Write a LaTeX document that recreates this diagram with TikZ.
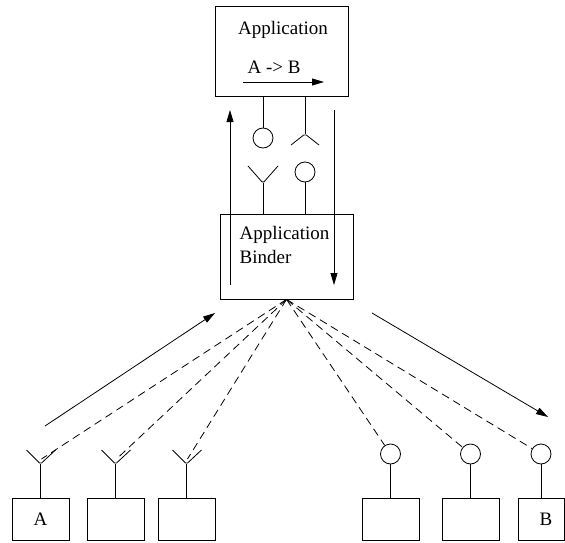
\documentclass[tikz,border=0pt]{standalone}
\usepackage{fontspec}
\setmainfont{Liberation Serif}
\usetikzlibrary{arrows.meta}

\tikzset{
  box/.style={draw, rectangle, inner sep=0pt},
  plug/.style={draw, circle, minimum size=20pt, inner sep=0pt},
  wire/.style={line width=0.8pt},
  cup/.style={line width=0.8pt, rounded corners=1.5pt},
  flow/.style={line width=0.8pt, -{Triangle[length=12pt,width=7pt]}},
  bind/.style={line width=0.8pt, dash pattern=on 8pt off 5pt}
}

\begin{document}
\begin{tikzpicture}[x=1pt, y=-1pt, font=\fontsize{19}{24}\selectfont, line width=0.8pt]
\useasboundingbox (0,0) rectangle (565,543);

% ---------- application ----------
\node[box, minimum width=133pt, minimum height=90pt] (app) at (281.5,51) {};
\node (apptext) at (283,30) {Application};
\node (abtext) at (274,67) {A -> B};
\coordinate (abstart) at (243,82);
\coordinate (abend) at (324,82);
\draw[flow] (abstart) -- (abend);

% ---------- application binder ----------
\node[box, minimum width=133pt, minimum height=85pt] (binder) at (286.5,256.5) {};
\node[align=left, anchor=west] (bindtext) at (236,245) {Application\\Binder};

% ---------- interfaces between the two ----------
\coordinate (appl) at (263,96);
\coordinate (appr) at (305,96);
\node[plug] (appplug) at (263,138) {};
\coordinate (apppeak) at (305,134);
\draw[wire] (appl) -- (appplug);
\draw[wire] (appr) -- (apppeak);
\draw[cup] (291,145) -- (apppeak) -- (319,145);

\coordinate (bindl) at (263,214);
\coordinate (bindr) at (305,214);
\coordinate (bindcup) at (263,183);
\node[plug] (bindplug) at (305,172) {};
\draw[wire] (bindl) -- (bindcup);
\draw[cup] (248,166) -- (bindcup) -- (278,166);
\draw[wire] (bindr) -- (bindplug);

\coordinate (upfrom) at (230,285);
\coordinate (upto) at (230,110);
\coordinate (downfrom) at (334,110);
\coordinate (downto) at (334,285);
\draw[flow] (upfrom) -- (upto);
\draw[flow] (downfrom) -- (downto);

% ---------- senders (left) ----------
\foreach \name/\x/\lbl in {sa/40.5/A, sb/115.5/, sc/186.5/} {
  \node[box, minimum width=57pt, minimum height=42pt] (\name) at (\x,519) {\lbl};
  \coordinate (\name cup) at (\x,464);
  \coordinate (\name end) at (\x+1,459);
  \draw[wire] (\name.north) -- (\name cup);
  \draw[cup] (\x-14,450) -- (\name cup) -- (\x+15,450);
  \draw[bind] (binder.south) -- (\name end);
}

% ---------- receivers (right) ----------
\foreach \name/\x/\w/\lbl in {ra/390.5/57/, rb/470.5/57/, rc/541/46/B} {
  \node[box, minimum width=\w pt, minimum height=42pt] (\name) at (\x,519) {};
  \node (\name text) at (546,519) {\lbl};
  \node[plug] (\name plug) at (\name.north |- 0,454) {};
  \draw[wire] (\name.north) -- (\name plug);
  \draw[bind] (binder.south) -- (\name plug);
}

% ---------- traffic A -> B ----------
\coordinate (infrom) at (45,426);
\coordinate (into) at (215,313);
\coordinate (outfrom) at (372,313);
\coordinate (outto) at (548,417);
\draw[flow] (infrom) -- (into);
\draw[flow] (outfrom) -- (outto);

\end{tikzpicture}
\end{document}
